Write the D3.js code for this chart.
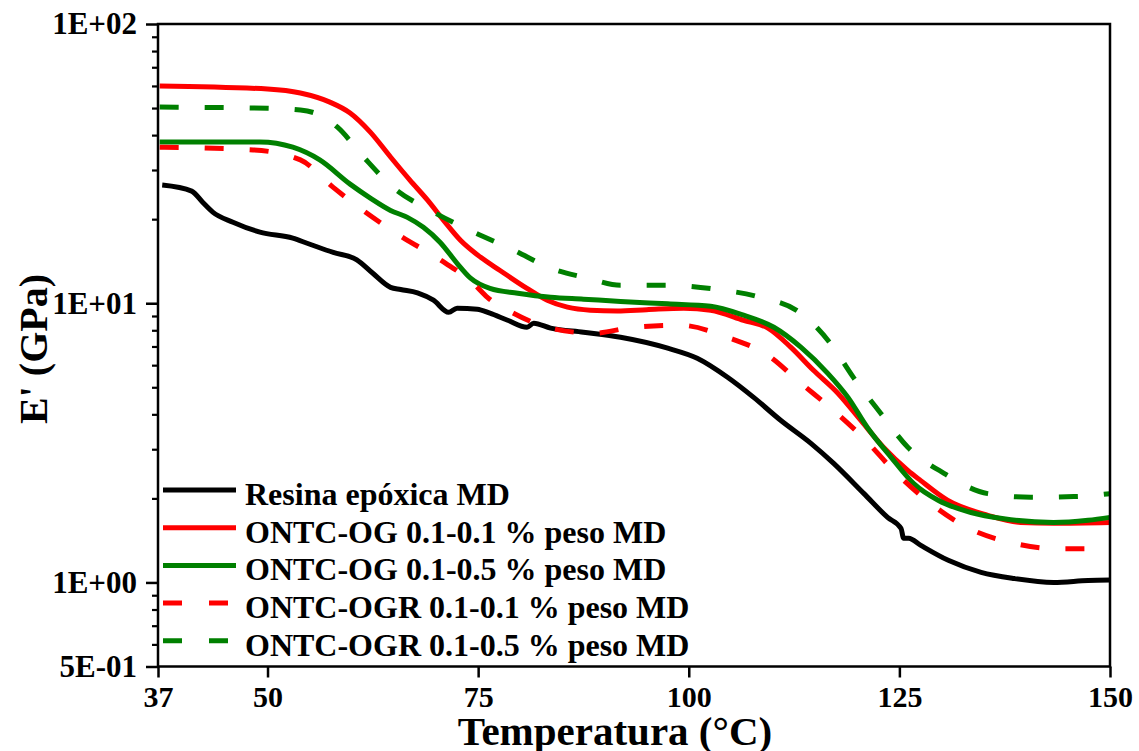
<!DOCTYPE html>
<html><head><meta charset="utf-8">
<script src="https://cdn.jsdelivr.net/npm/d3@7"></script>
<style>body{margin:0;background:#fff}svg{display:block}text{font-family:"Liberation Serif","Times New Roman",serif;font-weight:bold}</style>
</head><body>
<svg id="c" width="1139" height="751"></svg>
<script>
const seriesNames = ["Resina epóxica MD","ONTC-OG 0.1-0.1 % peso MD","ONTC-OG 0.1-0.5 % peso MD","ONTC-OGR 0.1-0.1 % peso MD","ONTC-OGR 0.1-0.5 % peso MD"];
const seriesColors = ["#000000","#ff0000","#008000","#ff0000","#008000"];
const seriesDashed = [false,false,false,true,true];

const resinaT = [37.5,41.0,42.3,43.5,45.9,49.1,53.0,54.7,57.8,60.6,62.5,64.6,65.8,67.8,69.7,71.5,72.5,74.9,76.4,78.5,80.8,81.6,83.6,87.5,91.9,97.5,101.0,104.6,107.7,110.9,114.5,117.2,120.8,123.6,125.2,125.5,126.1,127.5,130.8,134.7,138.6,143.3,147.4,150];
const resinaE = [26.5,25.2,23.0,21.2,19.5,17.97,17.1,16.4,15.2,14.3,12.8,11.4,11.2,10.9,10.25,9.28,9.6,9.52,9.21,8.69,8.2,8.48,8.14,7.87,7.55,6.90,6.35,5.43,4.60,3.81,3.15,2.67,2.08,1.71,1.56,1.44,1.44,1.36,1.20,1.087,1.033,1.0,1.016,1.02];

const og11T = [37.2,50.0,53.9,57.4,59.8,62.2,64.6,66.9,69.0,70.9,72.9,75.3,77.6,80.8,83.2,85.6,88.3,91.5,95.0,99.4,102.6,106.5,109.4,112.1,114.8,117.7,120.4,123.1,126.0,127.5,130.7,135.5,139.4,143.3,150];
const og11E = [60.0,58.5,56.6,52.5,48.0,41.0,33.4,27.6,23.4,19.8,16.8,14.6,13.1,11.3,10.25,9.68,9.44,9.38,9.48,9.6,9.44,8.69,8.14,6.96,5.75,4.76,3.81,3.05,2.52,2.32,1.97,1.74,1.64,1.63,1.64];

const og15T = [37.2,49.1,53.0,56.2,59.8,62.2,64.6,66.6,68.5,70.5,72.5,74.1,76.4,79.7,83.6,87.5,91.9,97.5,102.6,106.5,110.1,113.3,116.5,118.9,121.2,124.0,126.7,129.6,133.5,137.4,143.3,147.4,150];
const og15E = [37.8,37.8,36.2,32.6,26.7,23.8,21.5,20.3,18.7,16.5,13.9,12.3,11.3,10.86,10.5,10.34,10.15,9.95,9.76,9.06,8.2,6.96,5.61,4.60,3.59,2.81,2.26,1.97,1.78,1.69,1.64,1.67,1.71];

const ogr11T = [37.2,48.3,53.9,57.8,61.6,65.8,70.5,74.4,76.1,79.2,83.2,88.7,93.4,99.0,104.6,109.4,113.3,117.2,121.0,124.3,128.7,133.1,138.2,143.8,150];
const ogr11E = [36.2,35.4,32.6,26.0,21.2,17.4,14.3,11.8,10.5,9.21,8.2,7.81,8.2,8.34,7.55,6.51,5.17,4.13,3.23,2.52,1.92,1.57,1.39,1.32,1.32];

const ogr15T = [37.2,50.0,53.9,56.2,58.3,61.4,64.9,69.7,74.4,79.2,83.6,88.0,91.9,97.5,103.4,108.5,113.3,116.8,119.6,122.8,126.0,130.3,135.5,140.6,145.7,150];
const ogr15E = [50.4,49.9,49.2,47.2,42.7,33.4,26.0,21.2,18.0,15.5,13.35,12.3,11.6,11.6,11.2,10.5,9.21,7.19,5.39,4.03,3.05,2.46,2.08,2.02,2.03,2.08];

const xTicks = [37,50,75,100,125,150];
const yTickValues = [100,10,1,0.5];
const yTickLabels = ["1E+02","1E+01","1E+00","5E-01"];
const xTitle = "Temperatura (°C)";
const yTitle = "E' (GPa)";

const seriesT = [resinaT,og11T,og15T,ogr11T,ogr15T];
const seriesE = [resinaE,og11E,og15E,ogr11E,ogr15E];

const svg = d3.select("#c");
const L=158, R=1110, T=24, B=666.5;
const x = d3.scaleLinear().domain([37,150]).range([L,R]);
const y = d3.scaleLog().domain([0.5,100]).range([B,T]);

const minor = [];
[0.6,0.7,0.8,0.9].forEach(v=>minor.push(v));
for (let d of [1,10]) for (let k=2;k<=9;k++) minor.push(k*d);

const yAxisMinor = d3.axisLeft(y).tickValues(minor).tickSize(6).tickFormat("");
const gm = svg.append("g").attr("transform",`translate(${L},0)`).call(yAxisMinor);
gm.select(".domain").remove();
gm.selectAll("line").attr("stroke","#000").attr("stroke-width",2.2);

const yAxis = d3.axisLeft(y).tickValues(yTickValues).tickSize(12).tickPadding(9)
  .tickFormat(d=>yTickLabels[yTickValues.indexOf(d)]);
const gy = svg.append("g").attr("transform",`translate(${L},0)`).call(yAxis);
gy.select(".domain").remove();
gy.selectAll("line").attr("stroke","#000").attr("stroke-width",2.5);
gy.selectAll("text").attr("font-size",31).attr("fill","#000")
  .attr("font-family","'Liberation Serif',serif").attr("font-weight","bold");

const xAxis = d3.axisBottom(x).tickValues(xTicks).tickSize(11).tickPadding(8).tickFormat(d3.format("d"));
const gx = svg.append("g").attr("transform",`translate(0,${B})`).call(xAxis);
gx.select(".domain").remove();
gx.selectAll("line").attr("stroke","#000").attr("stroke-width",2.5);
gx.selectAll("text").attr("font-size",30).attr("fill","#000")
  .attr("font-family","'Liberation Serif',serif").attr("font-weight","bold");

const line = d3.line().x(d=>x(d[0])).y(d=>y(d[1])).curve(d3.curveMonotoneX);
seriesT.forEach((ts,i)=>{
  const pts = ts.map((t,j)=>[t,seriesE[i][j]]);
  svg.append("path").attr("d",line(pts)).attr("fill","none")
    .attr("stroke",seriesColors[i]).attr("stroke-width",5)
    .attr("stroke-linejoin","round")
    .attr("stroke-dasharray",seriesDashed[i]?"19,26":null);
});

svg.append("rect").attr("x",L).attr("y",T).attr("width",R-L).attr("height",B-T)
  .attr("fill","none").attr("stroke","#000").attr("stroke-width",2.5);

seriesNames.forEach((n,i)=>{
  const cy = 490 + i*37.7;
  svg.append("line").attr("x1",163).attr("x2",236).attr("y1",cy).attr("y2",cy)
    .attr("stroke",seriesColors[i]).attr("stroke-width",5)
    .attr("stroke-dasharray",seriesDashed[i]?"19,27":null);
  svg.append("text").attr("x",245).attr("y",cy+15).attr("font-size",32).attr("fill","#000").text(n);
});

svg.append("text").attr("x",615).attr("y",745).attr("text-anchor","middle").attr("font-size",41).text(xTitle);
svg.append("text").attr("transform","translate(47,349) rotate(-90)").attr("text-anchor","middle").attr("font-size",40).text(yTitle);
</script>
</body></html>
